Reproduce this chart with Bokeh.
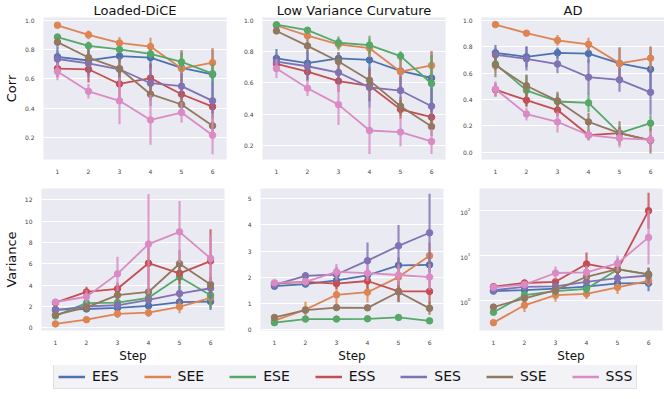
import numpy as np
from bokeh.plotting import figure
from bokeh.layouts import column, row
from bokeh.models import ColumnDataSource, PrintfTickFormatter, FixedTicker, Range1d, Legend, LegendItem
from bokeh.embed import file_html
from bokeh.resources import INLINE

steps = [1, 2, 3, 4, 5, 6]
series = ["EES", "SEE", "ESE", "ESS", "SES", "SSE", "SSS"]
colors = ["#4c72b0", "#dd8452", "#55a868", "#c44e52", "#8172b3", "#937860", "#da8bc3"]

titles = ["Loaded-DiCE", "Low Variance Curvature", "AD"]

# ---- Corr, Loaded-DiCE ----
dice_corr = [
    [0.75, 0.725, 0.755, 0.745, 0.675, 0.63],
    [0.965, 0.90, 0.845, 0.82, 0.67, 0.71],
    [0.885, 0.825, 0.80, 0.77, 0.715, 0.635],
    [0.67, 0.665, 0.565, 0.605, 0.495, 0.41],
    [0.735, 0.705, 0.665, 0.57, 0.55, 0.45],
    [0.85, 0.745, 0.67, 0.495, 0.425, 0.28],
    [0.65, 0.515, 0.45, 0.32, 0.37, 0.215],
]
dice_corr_err = [
    [0.07, 0.08, 0.04, 0.07, 0.12, 0.17],
    [0.01, 0.03, 0.04, 0.06, 0.12, 0.10],
    [0.02, 0.03, 0.02, 0.03, 0.06, 0.07],
    [0.06, 0.09, 0.10, 0.10, 0.06, 0.05],
    [0.05, 0.09, 0.08, 0.12, 0.09, 0.12],
    [0.03, 0.06, 0.08, 0.08, 0.07, 0.07],
    [0.06, 0.05, 0.16, 0.17, 0.07, 0.13],
]

# ---- Corr, Low Variance Curvature ----
lvc_corr = [
    [0.755, 0.725, 0.755, 0.745, 0.675, 0.63],
    [0.965, 0.90, 0.845, 0.82, 0.67, 0.71],
    [0.97, 0.935, 0.855, 0.84, 0.77, 0.595],
    [0.72, 0.67, 0.61, 0.58, 0.43, 0.38],
    [0.735, 0.705, 0.665, 0.57, 0.55, 0.45],
    [0.93, 0.835, 0.735, 0.615, 0.45, 0.32],
    [0.69, 0.565, 0.46, 0.295, 0.285, 0.225],
]
lvc_corr_err = [
    [0.06, 0.08, 0.04, 0.07, 0.12, 0.17],
    [0.01, 0.03, 0.04, 0.06, 0.12, 0.09],
    [0.01, 0.01, 0.04, 0.06, 0.03, 0.18],
    [0.05, 0.06, 0.07, 0.10, 0.06, 0.05],
    [0.05, 0.09, 0.08, 0.13, 0.09, 0.12],
    [0.02, 0.04, 0.06, 0.07, 0.06, 0.06],
    [0.06, 0.05, 0.13, 0.15, 0.09, 0.08],
]

# ---- Corr, AD ----
ad_corr = [
    [0.755, 0.725, 0.755, 0.75, 0.675, 0.63],
    [0.97, 0.905, 0.85, 0.82, 0.675, 0.715],
    [0.67, 0.47, 0.385, 0.375, 0.145, 0.22],
    [0.475, 0.395, 0.32, 0.13, 0.145, 0.09],
    [0.74, 0.71, 0.67, 0.57, 0.55, 0.455],
    [0.66, 0.505, 0.39, 0.23, 0.145, 0.09],
    [0.48, 0.29, 0.23, 0.13, 0.105, 0.095],
]
ad_corr_err = [
    [0.06, 0.08, 0.04, 0.07, 0.12, 0.17],
    [0.01, 0.02, 0.04, 0.05, 0.12, 0.09],
    [0.05, 0.12, 0.06, 0.07, 0.05, 0.06],
    [0.05, 0.05, 0.05, 0.04, 0.04, 0.04],
    [0.05, 0.09, 0.07, 0.13, 0.09, 0.17],
    [0.09, 0.08, 0.07, 0.07, 0.09, 0.10],
    [0.06, 0.05, 0.08, 0.04, 0.07, 0.06],
]

# ---- Variance, Loaded-DiCE ----
dice_var = [
    [1.7, 1.75, 1.85, 2.05, 2.4, 2.45],
    [0.35, 0.75, 1.3, 1.4, 1.95, 2.8],
    [1.1, 2.3, 2.35, 2.8, 4.75, 3.05],
    [2.35, 3.35, 3.65, 6.05, 5.1, 6.25],
    [1.65, 2.0, 2.1, 2.6, 3.2, 3.7],
    [1.2, 1.9, 3.05, 3.35, 6.0, 4.05],
    [2.4, 2.9, 5.05, 7.85, 9.0, 6.5],
]
dice_var_err = [
    [0.2, 0.2, 0.3, 0.3, 0.4, 0.8],
    [0.1, 0.2, 0.4, 0.4, 0.6, 0.8],
    [0.2, 0.5, 0.4, 0.6, 1.2, 1.2],
    [0.3, 0.5, 0.6, 1.8, 1.0, 3.0],
    [0.2, 0.3, 0.4, 0.6, 0.7, 1.0],
    [0.3, 0.4, 0.6, 0.9, 1.3, 0.7],
    [0.3, 0.6, 1.6, 4.7, 2.9, 2.2],
]

# ---- Variance, Low Variance Curvature ----
lvc_var = [
    [1.65, 1.73, 1.87, 2.07, 2.45, 2.47],
    [0.33, 0.75, 1.32, 1.42, 2.0, 2.82],
    [0.25, 0.39, 0.39, 0.40, 0.45, 0.32],
    [1.75, 1.82, 1.75, 1.85, 1.45, 1.45],
    [1.70, 2.05, 2.10, 2.63, 3.20, 3.70],
    [0.45, 0.73, 0.83, 0.82, 1.43, 0.80],
    [1.78, 1.82, 2.20, 2.15, 2.08, 2.0],
]
lvc_var_err = [
    [0.1, 0.1, 0.15, 0.2, 0.3, 0.4],
    [0.1, 0.3, 0.35, 0.4, 0.6, 0.5],
    [0.05, 0.05, 0.05, 0.05, 0.1, 0.08],
    [0.1, 0.15, 0.2, 0.3, 0.4, 0.5],
    [0.15, 0.15, 0.3, 0.7, 0.8, 1.5],
    [0.08, 0.1, 0.1, 0.1, 0.4, 0.25],
    [0.1, 0.15, 0.3, 0.3, 0.4, 0.5],
]

# ---- Variance, AD (log scale; errors are multiplicative factors) ----
ad_var = [
    [1.65, 1.73, 1.87, 2.07, 2.45, 2.47],
    [0.33, 0.8, 1.34, 1.43, 2.0, 2.8],
    [0.56, 1.34, 1.65, 1.85, 5.0, 3.9],
    [2.07, 2.5, 2.65, 6.6, 4.9, 100.0],
    [1.73, 2.04, 2.1, 2.65, 3.2, 3.66],
    [0.73, 1.14, 1.73, 3.43, 5.1, 3.9],
    [2.0, 2.3, 4.16, 4.3, 6.8, 25.6],
]
ad_var_err = [
    [1.1, 1.1, 1.15, 1.15, 1.2, 1.5],
    [1.1, 1.4, 1.4, 1.3, 1.4, 1.3],
    [1.1, 1.3, 1.2, 1.3, 1.8, 1.4],
    [1.1, 1.2, 1.2, 1.8, 1.3, 2.5],
    [1.1, 1.15, 1.2, 1.3, 1.3, 1.5],
    [1.1, 1.2, 1.3, 1.4, 1.4, 1.3],
    [1.1, 1.2, 1.4, 1.4, 1.5, 4.0],
]

FONT = "DejaVu Sans"
FW, FH = 183, 142


def panel(vals, errs, yr, ticks, fmt=None, title=None, ylabel=None, xlabel=None,
          log=False, bl=22, br=14, bt=0, bb=12):
    kw = dict(frame_width=FW, frame_height=FH, output_backend="svg", toolbar_location=None,
              x_range=Range1d(0.55, 6.45), y_range=Range1d(*yr),
              min_border_left=bl, min_border_right=br, min_border_top=bt, min_border_bottom=bb,
              title=title)
    if log:
        kw["y_axis_type"] = "log"
    p = figure(**kw)
    p.background_fill_color = "#eaeaf2"
    p.border_fill_color = "white"
    p.outline_line_color = None
    if title:
        p.title.text_font = FONT
        p.title.text_font_size = "13px"
        p.title.text_font_style = "normal"
        p.title.align = "center"
        p.title.standoff = 0
        p.title.text_color = "#111111"
    for ax in (p.xaxis, p.yaxis):
        ax.axis_line_color = None
        ax.major_tick_line_color = None
        ax.minor_tick_line_color = None
        ax.major_label_text_font = FONT
        ax.major_label_text_font_size = "6px"
        ax.major_label_text_color = "#444444"
        ax.major_label_standoff = 3
        ax.axis_label_text_font = FONT
        ax.axis_label_text_font_style = "normal"
        ax.axis_label_text_color = "#111111"
        ax.axis_label_standoff = 1
    p.xaxis.ticker = FixedTicker(ticks=steps)
    p.yaxis.ticker = FixedTicker(ticks=ticks)
    if fmt:
        p.yaxis.formatter = PrintfTickFormatter(format=fmt)
    if ylabel:
        p.yaxis.axis_label = ylabel
        p.yaxis.axis_label_text_font_size = "13px"
        p.yaxis.axis_label_standoff = 3
    if xlabel:
        p.xaxis.axis_label = xlabel
        p.xaxis.axis_label_text_font_size = "12px"
    p.xgrid.visible = False
    p.ygrid.grid_line_color = "white"
    p.ygrid.grid_line_width = 1
    p.ygrid.minor_grid_line_color = None

    for i, name in enumerate(series):
        c = colors[i]
        v = np.array(vals[i], dtype=float)
        e = np.array(errs[i], dtype=float)
        if log:
            lo, hi = v / e, v * e
        else:
            lo, hi = v - e, v + e
        src = ColumnDataSource(dict(x=steps, y=v, lo=lo, hi=hi))
        p.segment(x0="x", y0="lo", x1="x", y1="hi", source=src, line_color=c,
                  line_width=2.2, line_alpha=0.8)
        p.line("x", "y", source=src, line_color=c, line_width=1.8)
        p.scatter("x", "y", source=src, size=6.5, fill_color=c, line_color=c)
    return p


corr_ticks = [0.2, 0.4, 0.6, 0.8, 1.0]
p1 = panel(dice_corr, dice_corr_err, (0.05, 1.018), corr_ticks, "%.1f", titles[0], "Corr", bl=28)
p2 = panel(lvc_corr, lvc_corr_err, (0.11, 1.016), corr_ticks, "%.1f", titles[1])
p3 = panel(ad_corr, ad_corr_err, (-0.056, 1.024), [0.0] + corr_ticks, "%.1f", titles[2], br=3)

p4 = panel(dice_var, dice_var_err, (-0.27, 13.07), [0, 2, 4, 6, 8, 10, 12], None, None, "Variance",
           "Step", bl=28, bt=12, bb=0)
p5 = panel(lvc_var, lvc_var_err, (-0.05, 5.4), [0, 1, 2, 3, 4, 5], None, None, None, "Step",
           bt=12, bb=0)
p6 = panel(ad_var, ad_var_err, (0.221, 311), [1, 10, 100], None, None, None, "Step", log=True,
           br=3, bt=12, bb=0)

# ---- legend strip ----
lg = figure(width=650, height=25, output_backend="svg", toolbar_location=None,
            x_range=Range1d(0, 1), y_range=Range1d(0, 1), min_border=0)
lg.axis.visible = False
lg.grid.visible = False
lg.outline_line_color = None
lg.background_fill_color = "white"
items = []
for i, name in enumerate(series):
    r = lg.line(x=[0, 1], y=[-5, -5], line_color=colors[i], line_width=2.5)
    items.append(LegendItem(label=name, renderers=[r]))
leg = Legend(items=items, orientation="horizontal", location=(53, 1),
             label_text_font=FONT, label_text_font_size="14px", label_text_color="#111111",
             glyph_width=27, glyph_height=15, label_height=15, label_standoff=7, spacing=25,
             padding=4, margin=0, border_line_color="#cccccc", border_line_width=1,
             background_fill_color="#eaeaf2", background_fill_alpha=0.6)
lg.add_layout(leg, "center")

layout = column(row(p1, p2, p3), row(p4, p5, p6), lg)
open("out.html", "w").write(file_html(layout, INLINE))
